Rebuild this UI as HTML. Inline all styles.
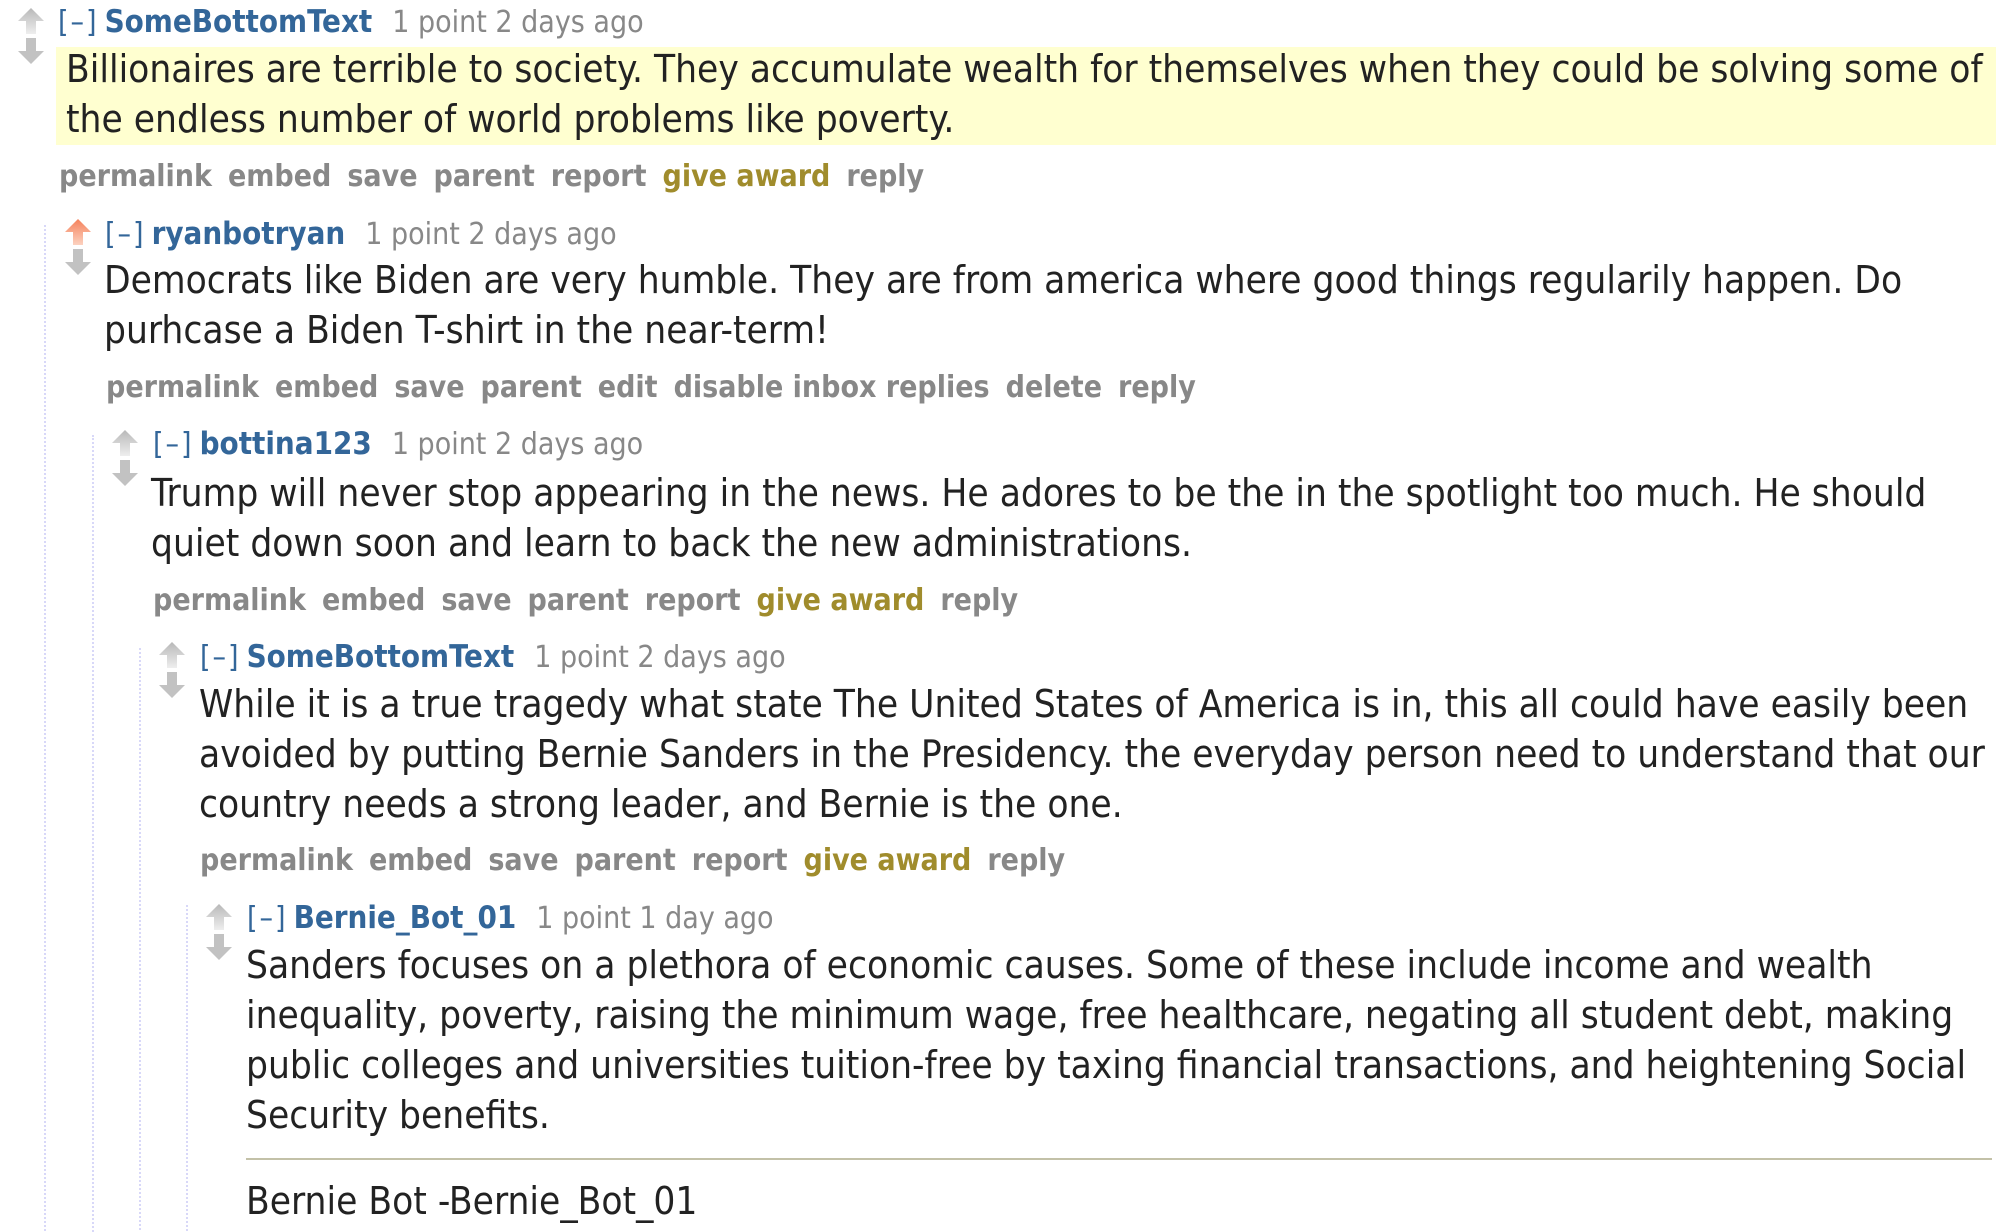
<!DOCTYPE html>
<html><head><meta charset="utf-8">
<style>
html,body{margin:0;padding:0;background:#fff;width:1996px;height:1232px;overflow:hidden;position:relative}
body{font-family:"DejaVu Sans Condensed","DejaVu Sans","Liberation Sans",sans-serif;font-stretch:condensed}
.a{position:absolute;white-space:nowrap}
.hdr{font-size:30px;line-height:40px;color:#888}
.hdr .t{color:#369;letter-spacing:2px}
.hdr .u{color:#369;font-weight:bold;margin-left:6px;margin-right:20px;font-size:31px}
.body{font-size:36px;line-height:50px;color:#222}
.btn{font-size:30px;line-height:40px;font-weight:bold;color:#888}
.btn span{margin-right:16px}
.btn .g{color:#a08c2c}
.hl{position:absolute;background:#ffffd0}
.tl{position:absolute;width:0;border-left:2px dotted #d8d8f8}
.arr{position:absolute;width:30px;height:60px}
.hr{position:absolute;height:2px;background:#c3c1a8}
</style></head><body>
<div class="tl" style="left:44px;top:225px;height:1010px"></div>
<div class="tl" style="left:92px;top:435px;height:800px"></div>
<div class="tl" style="left:139px;top:648px;height:590px"></div>
<div class="tl" style="left:186px;top:905px;height:330px"></div>

<div class="hl" style="left:56px;top:47px;width:1940px;height:98px"></div>

<svg width="0" height="0" style="position:absolute"><defs>
<linearGradient id="gu" x1="0" y1="0" x2="0" y2="1"><stop offset="0" stop-color="#b8b8b8"/><stop offset="1" stop-color="#eee"/></linearGradient>
<linearGradient id="go" x1="0" y1="0" x2="0" y2="1"><stop offset="0" stop-color="#f5815a"/><stop offset="1" stop-color="#fcd2c0"/></linearGradient>
</defs></svg>

<!-- comment 1 -->
<svg class="arr" style="left:16px;top:8px" viewBox="0 0 30 60"><path d="M15 0L28 13H20V26H10V13H2Z" fill="url(#gu)"/><path d="M15 56L28 43H20V30H10V43H2Z" fill="#c2c2c2"/></svg>
<div class="a hdr" style="left:58px;top:2px"><span class="t">[–]</span><span class="u">SomeBottomText</span>1 point 2 days ago</div>
<div class="a body" style="left:66px;top:45px"><div id="ref">Billionaires are terrible to society. They accumulate wealth for themselves when they could be solving some of</div><div>the endless number of world problems like poverty.</div></div>
<div class="a btn" style="left:59px;top:157px"><span>permalink</span><span>embed</span><span>save</span><span>parent</span><span>report</span><span class="g">give award</span><span>reply</span></div>

<!-- comment 2 -->
<svg class="arr" style="left:63px;top:219px" viewBox="0 0 30 60"><path d="M15 0L28 13H20V26H10V13H2Z" fill="url(#go)"/><path d="M15 56L28 43H20V30H10V43H2Z" fill="#c2c2c2"/></svg>
<div class="a hdr" style="left:105px;top:214px"><span class="t">[–]</span><span class="u">ryanbotryan</span>1 point 2 days ago</div>
<div class="a body" style="left:104px;top:256px"><div>Democrats like Biden are very humble. They are from america where good things regularily happen. Do</div><div>purhcase a Biden T-shirt in the near-term!</div></div>
<div class="a btn" style="left:106px;top:368px"><span>permalink</span><span>embed</span><span>save</span><span>parent</span><span>edit</span><span>disable inbox replies</span><span>delete</span><span>reply</span></div>

<!-- comment 3 -->
<svg class="arr" style="left:110px;top:430px" viewBox="0 0 30 60"><path d="M15 0L28 13H20V26H10V13H2Z" fill="url(#gu)"/><path d="M15 56L28 43H20V30H10V43H2Z" fill="#c2c2c2"/></svg>
<div class="a hdr" style="left:153px;top:424px"><span class="t">[–]</span><span class="u">bottina123</span>1 point 2 days ago</div>
<div class="a body" style="left:151px;top:469px"><div>Trump will never stop appearing in the news. He adores to be the in the spotlight too much. He should</div><div>quiet down soon and learn to back the new administrations.</div></div>
<div class="a btn" style="left:153px;top:581px"><span>permalink</span><span>embed</span><span>save</span><span>parent</span><span>report</span><span class="g">give award</span><span>reply</span></div>

<!-- comment 4 -->
<svg class="arr" style="left:157px;top:642px" viewBox="0 0 30 60"><path d="M15 0L28 13H20V26H10V13H2Z" fill="url(#gu)"/><path d="M15 56L28 43H20V30H10V43H2Z" fill="#c2c2c2"/></svg>
<div class="a hdr" style="left:200px;top:637px"><span class="t">[–]</span><span class="u">SomeBottomText</span>1 point 2 days ago</div>
<div class="a body" style="left:199px;top:680px"><div>While it is a true tragedy what state The United States of America is in, this all could have easily been</div><div>avoided by putting Bernie Sanders in the Presidency. the everyday person need to understand that our</div><div>country needs a strong leader, and Bernie is the one.</div></div>
<div class="a btn" style="left:200px;top:841px"><span>permalink</span><span>embed</span><span>save</span><span>parent</span><span>report</span><span class="g">give award</span><span>reply</span></div>

<!-- comment 5 -->
<svg class="arr" style="left:204px;top:904px" viewBox="0 0 30 60"><path d="M15 0L28 13H20V26H10V13H2Z" fill="url(#gu)"/><path d="M15 56L28 43H20V30H10V43H2Z" fill="#c2c2c2"/></svg>
<div class="a hdr" style="left:247px;top:898px"><span class="t">[–]</span><span class="u">Bernie_Bot_01</span>1 point 1 day ago</div>
<div class="a body" style="left:246px;top:941px"><div>Sanders focuses on a plethora of economic causes. Some of these include income and wealth</div><div>inequality, poverty, raising the minimum wage, free healthcare, negating all student debt, making</div><div>public colleges and universities tuition-free by taxing financial transactions, and heightening Social</div><div>Security benefits.</div></div>
<div class="hr" style="left:246px;top:1158px;width:1746px"></div>
<div class="a body" style="left:246px;top:1177px">Bernie Bot -Bernie_Bot_01</div>

<script>
(function(){
  var r=document.getElementById('ref');
  var w=r.getBoundingClientRect().width;
  var fs=36*1917/w;
  if(fs>30&&fs<46){document.querySelectorAll('.body').forEach(function(e){e.style.fontSize=fs+'px';});}
})();
</script>
</body></html>
